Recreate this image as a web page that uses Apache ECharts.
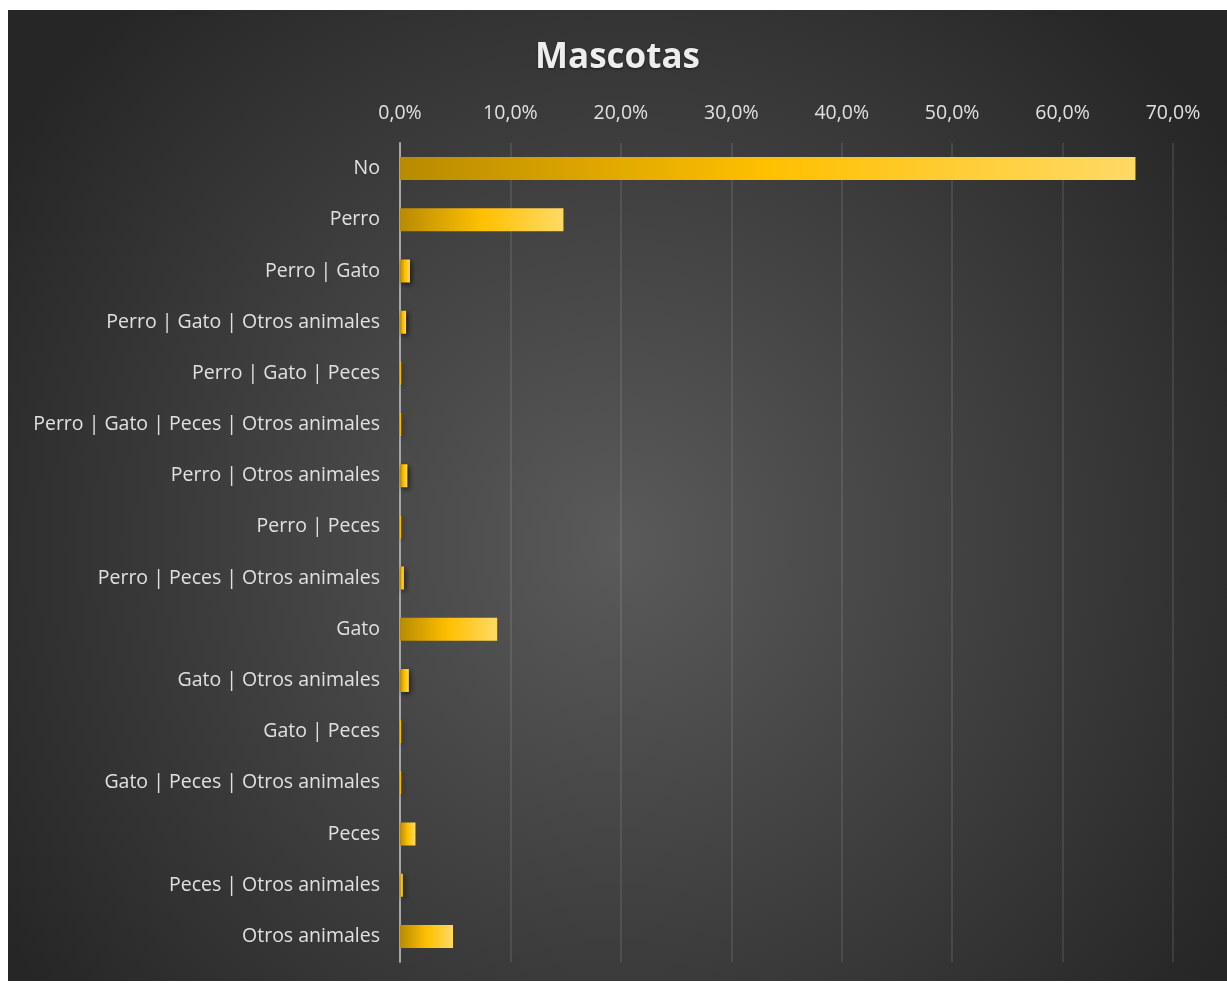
<!DOCTYPE html>
<html>
<head>
<meta charset="utf-8">
<title>Mascotas</title>
<script src="https://cdn.jsdelivr.net/npm/echarts@6/dist/echarts.min.js"></script>
<style>
  html, body { margin: 0; padding: 0; background: #ffffff; }
  #chart { position: absolute; left: 8px; top: 10px; width: 1219px; height: 971px; }
</style>
</head>
<body>
<div id="chart"></div>
<script>
// categorías (de arriba a abajo)
const categories = [
  "No",
  "Perro",
  "Perro | Gato",
  "Perro | Gato | Otros animales",
  "Perro | Gato | Peces",
  "Perro | Gato | Peces | Otros animales",
  "Perro | Otros animales",
  "Perro | Peces",
  "Perro | Peces | Otros animales",
  "Gato",
  "Gato | Otros animales",
  "Gato | Peces",
  "Gato | Peces | Otros animales",
  "Peces",
  "Peces | Otros animales",
  "Otros animales"
];

// porcentaje (fracción) de cada categoría
const values = [
  0.666, 0.148, 0.009, 0.0055, 0.001, 0.001, 0.0067, 0.001,
  0.0035, 0.088, 0.008, 0.001, 0.001, 0.014, 0.0025, 0.048
];

// ticks del eje
const tickMax = 0.7;
const tickStep = 0.1;

const chart = echarts.init(document.getElementById("chart"));

const fmtPct = (v) => (v * 100).toFixed(1).replace(".", ",") + "%";

chart.setOption({
  backgroundColor: {
    type: "radial", x: 0.5, y: 0.55, r: 0.75,
    colorStops: [
      { offset: 0, color: "#5a5a5a" },
      { offset: 1, color: "#262626" }
    ]
  },
  title: {
    text: "Mascotas",
    left: "center",
    top: 26,
    textStyle: {
      fontFamily: "Open Sans",
      fontSize: 35,
      fontWeight: "bold",
      color: "#ededed",
      textShadowColor: "rgba(0,0,0,0.5)",
      textShadowBlur: 3,
      textShadowOffsetY: 1
    }
  },
  grid: { left: 392, right: 54, top: 133, bottom: 19, containLabel: false },
  xAxis: {
    type: "value",
    position: "top",
    min: 0,
    max: tickMax,
    interval: tickStep,
    axisLine: { show: false },
    axisTick: { show: false },
    axisLabel: {
      formatter: fmtPct,
      color: "#e0e0e0",
      fontFamily: "Open Sans",
      fontSize: 19.5,
      margin: 20
    },
    splitLine: { lineStyle: { color: "rgba(255,255,255,0.13)", width: 1.5 } }
  },
  yAxis: {
    type: "category",
    data: categories,
    inverse: true,
    axisLine: { lineStyle: { color: "#a6a6a6", width: 2 } },
    axisTick: { show: false },
    axisLabel: {
      color: "#e0e0e0",
      fontFamily: "Open Sans",
      fontSize: 19.5,
      margin: 20
    }
  },
  series: [
    {
      type: "bar",
      data: values,
      barWidth: "45%",
      itemStyle: {
        color: {
          type: "linear", x: 0, y: 0, x2: 1, y2: 0,
          colorStops: [
            { offset: 0, color: "#b88a00" },
            { offset: 0.5, color: "#ffc000" },
            { offset: 1, color: "#ffd966" }
          ]
        },
        shadowColor: "rgba(0,0,0,0.6)",
        shadowBlur: 5,
        shadowOffsetX: 2,
        shadowOffsetY: 2
      },
      silent: true
    }
  ]
});
</script>
</body>
</html>
